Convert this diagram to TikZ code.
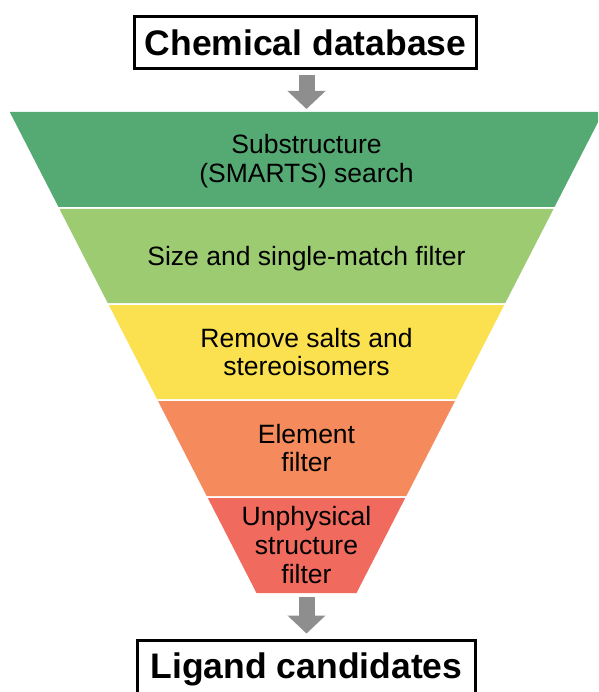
\documentclass[tikz,border=0pt]{standalone}
\usepackage{fontspec}
\setmainfont{Liberation Sans}
\usetikzlibrary{arrows.meta}

\definecolor{layerA}{HTML}{55AA74}
\definecolor{layerB}{HTML}{9CCB72}
\definecolor{layerC}{HTML}{FBE14F}
\definecolor{layerD}{HTML}{F58B5C}
\definecolor{layerE}{HTML}{F06B5D}
\definecolor{arrowgray}{RGB}{142,142,142}

\begin{document}
\begin{tikzpicture}[x=1pt,y=-1pt,
  titlebox/.style={draw=black,line width=3pt,fill=white,minimum width=342pt,
    minimum height=52pt,inner sep=0pt,
    font=\fontsize{35.5}{40}\selectfont\bfseries},
  stage/.style={align=center,inner sep=0pt,
    font=\fontsize{26.5}{28.8}\selectfont},
  flow/.style={draw=arrowgray,line width=16pt,
    -{Triangle[width=37pt,length=18pt]}}]

\clip (0,0) rectangle (598,692);

% funnel layers, separated by thin white gaps
\fill[layerA] (9.75,112) -- (603.25,112) -- (554.5,207) -- (58.5,207) -- cycle;
\fill[layerB] (59.5,209) -- (553.5,209) -- (505.3,303) -- (107.7,303) -- cycle;
\fill[layerC] (108.8,305) -- (504.2,305) -- (456,399) -- (157,399) -- cycle;
\fill[layerD] (158,401) -- (455,401) -- (406.3,496) -- (206.7,496) -- cycle;
\fill[layerE] (207.8,498) -- (405.2,498) -- (356.5,593) -- (256.5,593) -- cycle;

\coordinate (ftop) at (306.5,112);
\coordinate (fbot) at (306.5,593);

% stage labels
\node[stage] (l1) at (306.5,161.5) {Substructure\\(SMARTS) search};
\node[stage] (l2) at (306.5,259) {Size and single-match filter};
\node[stage] (l3) at (306.5,352) {Remove salts and\\stereoisomers};
\node[stage] (l4) at (306.5,448) {Element\\filter};
\node[stage] (l5) at (306.5,545) {Unphysical\\structure\\filter};

% input and output boxes (the output box runs past the lower edge)
\node[titlebox] (db) at (305.5,42.5) {Chemical database};
\node[titlebox,minimum width=338pt,minimum height=58pt] (lc) at (306.5,669.5) {Ligand candidates};

% flow arrows
\draw[flow,shorten <=5.5pt,shorten >=3pt] (db.south -| ftop) -- (ftop);
\draw[flow,shorten <=4pt,shorten >=5.5pt] (fbot) -- (lc.north -| fbot);
\end{tikzpicture}
\end{document}
